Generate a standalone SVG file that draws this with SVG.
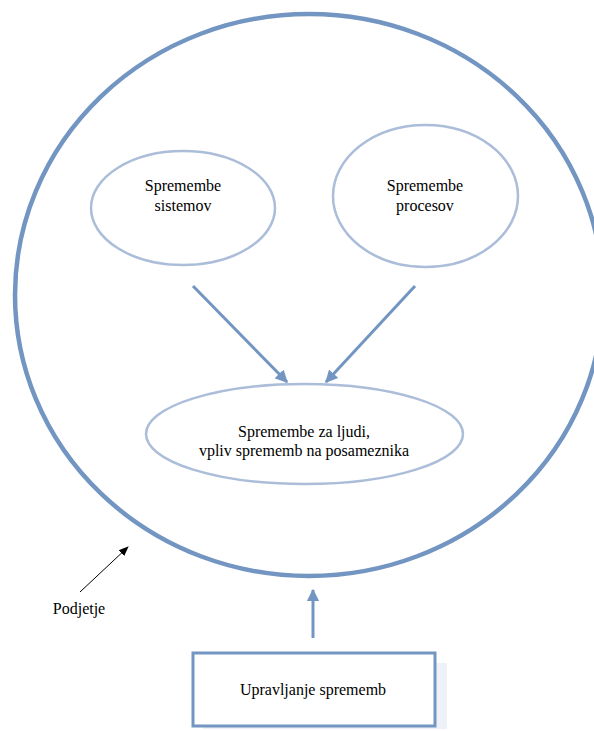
<svg xmlns="http://www.w3.org/2000/svg" width="594" height="731" viewBox="0 0 594 731">
  <style>
    text { font-family: 'Liberation Serif', 'DejaVu Serif', 'Times New Roman', serif; font-size: 16px; fill: #000; text-anchor: middle; }
    .outer { fill: none; stroke: #7295c2; stroke-width: 4.5; }
    .inner { fill: none; stroke: #abbdd9; stroke-width: 2.5; }
    .flow { stroke: #7295c2; stroke-width: 3; fill: none; }
  </style>
  <defs>
    <marker id="head" viewBox="0 0 10 10" refX="9" refY="5" markerWidth="4.2" markerHeight="4.2" orient="auto" markerUnits="strokeWidth">
      <path d="M0,0 L10,5 L0,10 z" fill="#7295c2"/>
    </marker>
    <marker id="headBlack" viewBox="0 0 10 10" refX="9" refY="5" markerWidth="10" markerHeight="10" orient="auto" markerUnits="strokeWidth">
      <path d="M0,1 L10,5 L0,9 z" fill="#000"/>
    </marker>
  </defs>
  <rect width="594" height="731" fill="#fff"/>

  <!-- company boundary -->
  <g id="podjetje">
    <ellipse class="outer" cx="309" cy="295" rx="294" ry="281"/>
  </g>

  <g id="spremembe-sistemov">
    <ellipse class="inner" cx="183" cy="208" rx="92" ry="57"/>
    <text x="183" y="191">Spremembe</text>
    <text x="183" y="211">sistemov</text>
  </g>

  <g id="spremembe-procesov">
    <ellipse class="inner" cx="425.5" cy="196" rx="92.5" ry="71"/>
    <text x="425" y="191">Spremembe</text>
    <text x="425" y="211">procesov</text>
  </g>

  <g id="spremembe-ljudi">
    <ellipse class="inner" cx="304.5" cy="434" rx="158.5" ry="50"/>
    <text x="304" y="437">Spremembe za ljudi,</text>
    <text x="304" y="456">vpliv sprememb na posameznika</text>
  </g>

  <g id="upravljanje-sprememb">
    <rect x="203" y="663" width="244" height="66" fill="#eef1f7"/>
    <rect x="193" y="653" width="242" height="73" fill="#fff" stroke="#7295c2" stroke-width="3"/>
    <text x="313" y="695">Upravljanje sprememb</text>
  </g>

  <g id="podjetje-label">
    <text x="79" y="614">Podjetje</text>
  </g>

  <!-- connectors -->
  <g id="connectors">
    <line class="flow" x1="193" y1="286" x2="287" y2="382" marker-end="url(#head)"/>
    <line class="flow" x1="415" y1="286" x2="326" y2="382" marker-end="url(#head)"/>
    <line class="flow" x1="313" y1="638" x2="313" y2="590" marker-end="url(#head)"/>
    <line x1="80" y1="592" x2="128" y2="547" stroke="#000" stroke-width="1" marker-end="url(#headBlack)"/>
  </g>
</svg>
